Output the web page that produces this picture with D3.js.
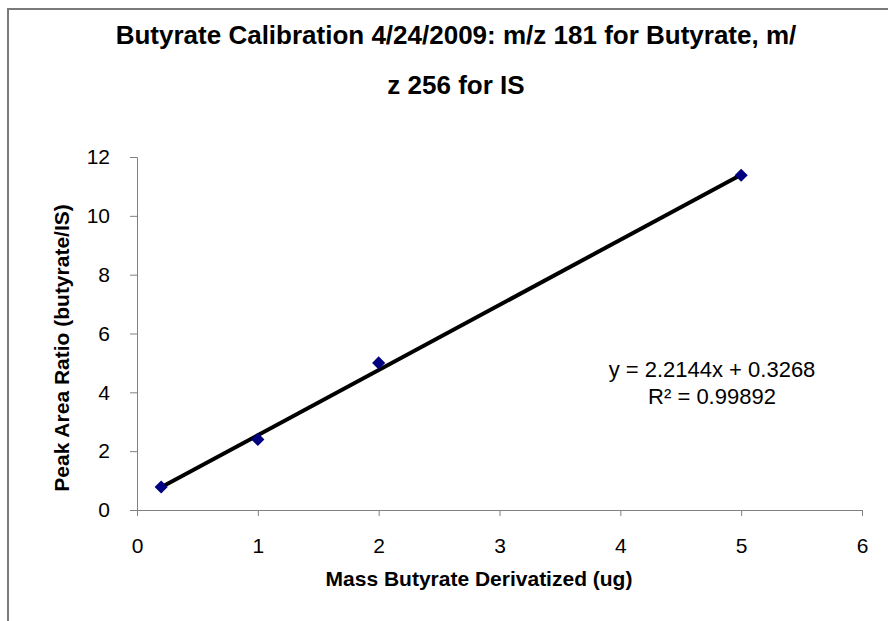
<!DOCTYPE html>
<html>
<head>
<meta charset="utf-8">
<script src="https://cdn.jsdelivr.net/npm/d3@7"></script>
<style>
  body { margin: 0; background: #fff; }
  text { font-family: "Liberation Sans", Arial, sans-serif; }
</style>
</head>
<body>
<div id="chart"></div>
<script>
// du lieu doc tu hinh
const massUg = [0.2, 1, 2, 5];
const peakRatio = [0.78, 2.4, 5.0, 11.38];
const slope = 2.2144, intercept = 0.3268;
const eqLabels = ["y = 2.2144x + 0.3268", "R\u00b2 = 0.99892"];
const xTicks = [0, 1, 2, 3, 4, 5, 6];
const yTicks = [0, 2, 4, 6, 8, 10, 12];
const titleLines = ["Butyrate Calibration 4/24/2009: m/z 181 for Butyrate, m/", "z 256 for IS"];

const width = 888, height = 621;
const margin = { top: 157, right: 26, bottom: 111, left: 137 };

const svg = d3.select("#chart").append("svg")
    .attr("width", width)
    .attr("height", height);

// khung ngoai
svg.append("rect")
    .attr("x", 8).attr("y", 9)
    .attr("width", 900).attr("height", 700)
    .attr("fill", "none")
    .attr("stroke", "#7a7a7a")
    .attr("stroke-width", 2);

const x = d3.scaleLinear().domain([0, 6]).range([margin.left, width - margin.right]);
const y = d3.scaleLinear().domain([0, 12]).range([height - margin.bottom, margin.top]);

// tieu de
svg.append("text")
    .attr("text-anchor", "middle")
    .style("font-size", "26px").style("font-weight", "bold")
    .selectAll("tspan")
    .data(titleLines)
    .enter().append("tspan")
    .attr("x", 456)
    .attr("y", (d, i) => 44 + i * 50)
    .text(d => d);

// truc X
const gx = svg.append("g")
    .attr("transform", `translate(0,${y(0)})`)
    .call(d3.axisBottom(x).tickValues(xTicks).tickSize(6).tickPadding(22).tickFormat(d3.format("d")));
// truc Y
const gy = svg.append("g")
    .attr("transform", `translate(${x(0)},0)`)
    .call(d3.axisLeft(y).tickValues(yTicks).tickSize(7).tickPadding(20).tickFormat(d3.format("d")));

[gx, gy].forEach(g => {
    g.select(".domain").attr("stroke", "#808080");
    g.selectAll(".tick line").attr("stroke", "#808080");
    g.selectAll(".tick text")
        .style("font-family", "Liberation Sans, Arial, sans-serif")
        .style("font-size", "21px")
        .attr("fill", "#000");
});
gx.selectAll(".tick text").attr("dy", "0.71em");

// duong xu huong
svg.append("line")
    .attr("x1", x(massUg[0])).attr("y1", y(slope * massUg[0] + intercept))
    .attr("x2", x(massUg[massUg.length - 1])).attr("y2", y(slope * massUg[massUg.length - 1] + intercept))
    .attr("stroke", "#000")
    .attr("stroke-width", 4);

// diem du lieu
svg.selectAll(".pt")
    .data(massUg.map((m, i) => [m, peakRatio[i]]))
    .enter().append("path")
    .attr("class", "pt")
    .attr("d", d3.symbol().type(d3.symbolDiamond2).size(110))
    .attr("transform", d => `translate(${x(d[0])},${y(d[1])})`)
    .attr("fill", "#000080");

// phuong trinh
svg.append("text")
    .attr("text-anchor", "middle")
    .style("font-size", "22px")
    .selectAll("tspan")
    .data(eqLabels)
    .enter().append("tspan")
    .attr("x", 712)
    .attr("y", (d, i) => 377 + i * 27)
    .text(d => d);

// nhan truc
svg.append("text")
    .attr("x", 479).attr("y", 586)
    .attr("text-anchor", "middle")
    .style("font-size", "21px").style("font-weight", "bold")
    .text("Mass Butyrate Derivatized (ug)");

svg.append("text")
    .attr("transform", "translate(69,348) rotate(-90)")
    .attr("text-anchor", "middle")
    .style("font-size", "21px").style("font-weight", "bold")
    .text("Peak Area Ratio (butyrate/IS)");
</script>
</body>
</html>
